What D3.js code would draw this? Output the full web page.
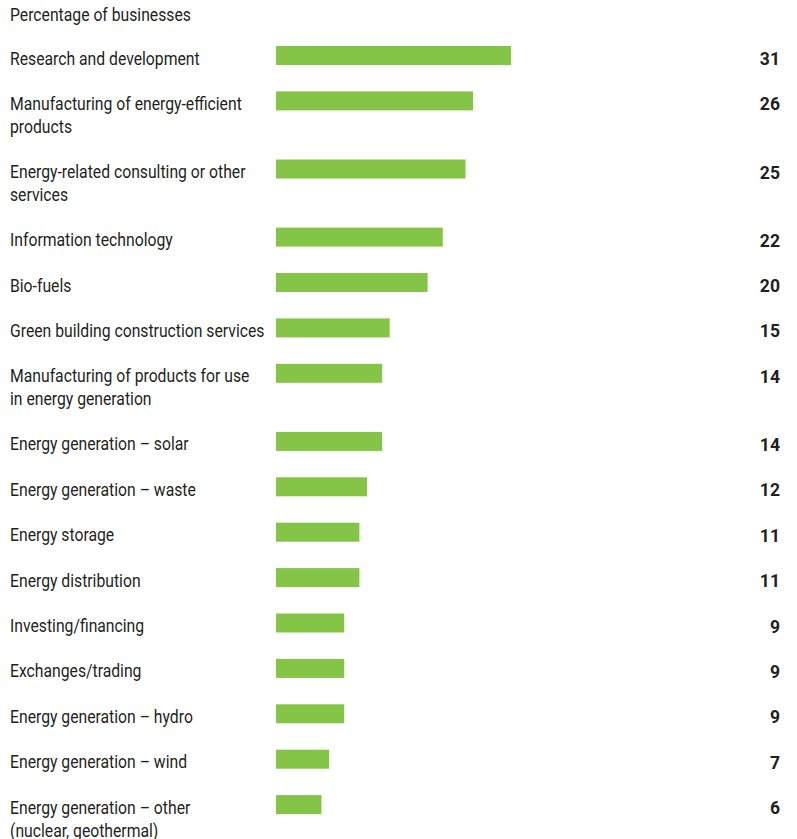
<!DOCTYPE html>
<html>
<head>
<meta charset="utf-8">
<script src="https://cdn.jsdelivr.net/npm/d3@7"></script>
<style>
  html, body { margin: 0; padding: 0; background: #ffffff; }
  svg { display: block; }
  text { font-family: "Roboto", "Liberation Sans", sans-serif; fill: #231f20; }
</style>
</head>
<body>
<svg id="chart" width="797" height="839"></svg>
<script>
// Activity categories (each entry is the list of lines shown for that label)
const categories = [
  ["Research and development"],
  ["Manufacturing of energy-efficient", "products"],
  ["Energy-related consulting or other", "services"],
  ["Information technology"],
  ["Bio-fuels"],
  ["Green building construction services"],
  ["Manufacturing of products for use", "in energy generation"],
  ["Energy generation \u2013 solar"],
  ["Energy generation \u2013 waste"],
  ["Energy storage"],
  ["Energy distribution"],
  ["Investing/financing"],
  ["Exchanges/trading"],
  ["Energy generation \u2013 hydro"],
  ["Energy generation \u2013 wind"],
  ["Energy generation \u2013 other", "(nuclear, geothermal)"]
];
// Share of businesses engaged in each activity (%)
const values = [31, 26, 25, 22, 20, 15, 14, 14, 12, 11, 11, 9, 9, 9, 7, 6];
const subtitle = "Percentage of businesses";

const svg = d3.select("#chart");

// Row positions: each extra label line adds half a row slot
let acc = 0;
const slots = categories.map(lines => { const s = acc; acc += 1 + 0.5 * (lines.length - 1); return s; });
const y = d3.scaleLinear().domain([0, 1]).range([55.5, 100.9]);
const x = d3.scaleLinear().domain([0, 31]).range([276, 511]);
const barH = 19;
const lineH = 23;
const labelSize = 17.5;
const squeeze = 0.9; // narrow the label face horizontally

svg.append("g")
  .attr("transform", `translate(10,21) scale(${squeeze},1)`)
  .append("text")
  .attr("font-size", labelSize)
  .text(subtitle);

const rows = svg.selectAll("g.row")
  .data(categories.map((c, i) => ({ lines: c, value: values[i], slot: slots[i] })))
  .join("g")
  .attr("class", "row")
  .attr("transform", d => `translate(0,${y(d.slot)})`);

rows.append("rect")
  .attr("x", x(0))
  .attr("y", -barH / 2)
  .attr("width", d => x(d.value) - x(0))
  .attr("height", barH)
  .attr("fill", "#84c446");

rows.append("g")
  .attr("transform", `translate(10,9) scale(${squeeze},1)`)
  .append("text")
  .attr("font-size", labelSize)
  .selectAll("tspan")
  .data(d => d.lines)
  .join("tspan")
  .attr("x", 0)
  .attr("dy", (d, i) => i === 0 ? 0 : lineH)
  .text(d => d);

rows.append("g")
  .attr("transform", `translate(780,9.5) scale(0.95,1)`)
  .append("text")
  .attr("text-anchor", "end")
  .attr("font-size", 18.5)
  .attr("font-weight", "bold")
  .text(d => d.value);
</script>
</body>
</html>
